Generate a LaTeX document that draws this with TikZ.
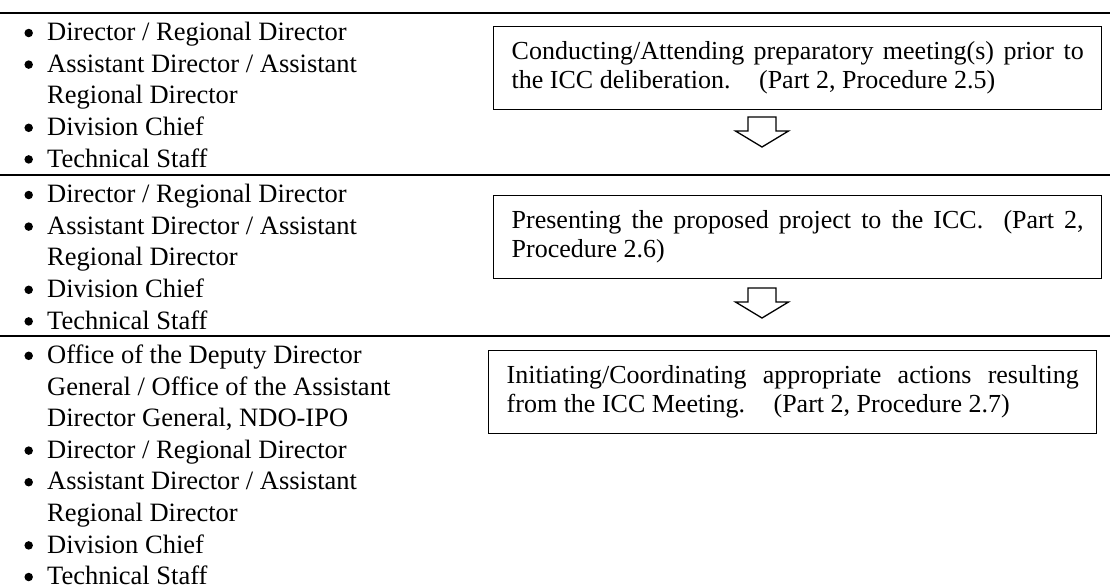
\documentclass[tikz,border=0pt]{standalone}
\usepackage{fontspec}
\setmainfont{Liberation Serif}
\usetikzlibrary{positioning}
\tikzset{
  rule/.style={draw=black, line width=1.8pt},
  roleline/.style={anchor=base west, inner sep=0pt, font=\fontsize{26.5}{31.6}\selectfont},
  bul/.style={circle, fill=black, inner sep=0pt, minimum size=8.5pt},
  stepbox/.style={draw=black, line width=1.4pt, anchor=north west, inner xsep=18pt, inner ysep=15pt,
    text width=572pt, align=justify, font=\fontsize{26}{29}\selectfont},
  blockarr/.style={draw=black, line width=1.3pt, line join=miter, fill=white},
}
% one cell of the left column: name, first baseline, list of flag/text
\newcommand{\roles}[3]{%
  \foreach \b/\txt [count=\i from 0] in {#3} {
    \node[roleline] (#1-\i) at (47,{#2+\i*31.6}) {\txt};
    \ifnum\b=1 \node[bul] (#1-bul-\i) at (28.7,{#2+\i*31.6-7.7}) {};\fi
  }}

\begin{document}
\begin{tikzpicture}[x=1pt,y=-1pt]
  \useasboundingbox (0,0) rectangle (1110,587);
  % table rules
  \foreach \y in {13,175,336} \draw[rule] (0,\y) -- (1110,\y);

  % left column
  \roles{rolesa}{40.7}{1/{Director / Regional Director},1/{Assistant Director / Assistant},
    0/{Regional Director},1/{Division Chief},1/{Technical Staff}}
  \roles{rolesb}{202.7}{1/{Director / Regional Director},1/{Assistant Director / Assistant},
    0/{Regional Director},1/{Division Chief},1/{Technical Staff}}
  \roles{rolesc}{363.5}{1/{Office of the Deputy Director},0/{General / Office of the Assistant},
    0/{Director General, NDO-IPO},1/{Director / Regional Director},1/{Assistant Director / Assistant},
    0/{Regional Director},1/{Division Chief},1/{Technical Staff}}

  % right column
  \node[stepbox] (step1) at (493,26) {Conducting/Attending preparatory meeting(s) prior to\linebreak
    the ICC deliberation.\hspace{1.1em}(Part 2, Procedure 2.5)};
  \node[stepbox] (step2) at (493,195) {Presenting the proposed project to the ICC.\ \ (Part 2,\linebreak
    Procedure 2.6)};
  \node[stepbox] (step3) at (488,350) {Initiating/Coordinating appropriate actions resulting\linebreak
    from the ICC Meeting.\hspace{1.1em}(Part 2, Procedure 2.7)};

  % open block arrows
  \coordinate (arr1) at (762,117);
  \coordinate (arr2) at (762,288);
  \foreach \a in {arr1,arr2}
    \draw[blockarr] (\a) ++(-14,0) -- ++(0,14) -- ++(-12.5,0) -- ++(26.5,16)
      -- ++(26.5,-16) -- ++(-12.5,0) -- ++(0,-14) -- cycle;
\end{tikzpicture}
\end{document}
